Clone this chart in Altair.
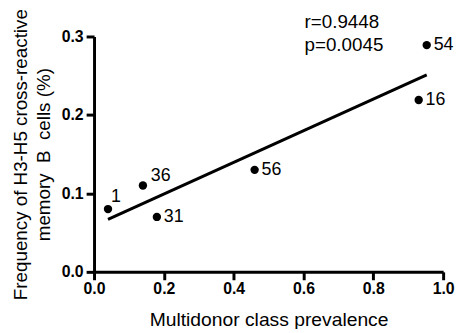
import altair as alt
import pandas as pd

# data
prevalence = [0.04, 0.14, 0.18, 0.46, 0.93, 0.953]
frequency = [0.080, 0.110, 0.070, 0.130, 0.219, 0.289]
donors = ["1", "36", "31", "56", "16", "54"]

annot_text = ["r=0.9448", "p=0.0045"]
annot_x = [0.603, 0.603]
annot_y = [0.319, 0.2885]

x_ticks = [0.0, 0.2, 0.4, 0.6, 0.8, 1.0]
y_ticks = [0.0, 0.1, 0.2, 0.3]

df = pd.DataFrame({"x": prevalence, "y": frequency, "label": donors})
ann = pd.DataFrame({"x": annot_x, "y": annot_y, "t": annot_text})

FONT = "Liberation Sans"

xs = alt.Scale(domain=[0, 1.0], nice=False)
ys = alt.Scale(domain=[0, 0.3], nice=False)

xax = alt.Axis(values=x_ticks, format=".1f", title="Multidonor class prevalence",
               titlePadding=14, titleFontSize=19.5, labelPadding=1)
yax = alt.Axis(values=y_ticks, format=".1f",
               title=["Frequency of H3-H5 cross-reactive", "memory\u00a0 B\u00a0 cells (%)"],
               titlePadding=8, titleFontSize=19, titleLineHeight=23)

base = alt.Chart(df)

points = base.mark_circle(size=72, color="black", opacity=1).encode(
    x=alt.X("x:Q", scale=xs, axis=xax),
    y=alt.Y("y:Q", scale=ys, axis=yax),
)

fit = base.transform_regression("x", "y").mark_line(color="black", strokeWidth=3).encode(
    x=alt.X("x:Q", scale=xs),
    y=alt.Y("y:Q", scale=ys),
)

labels_side = base.transform_filter(
    "datum.label != '1' && datum.label != '36'"
).mark_text(align="left", baseline="middle", dx=7, font=FONT, fontSize=18, color="black").encode(
    x=alt.X("x:Q", scale=xs), y=alt.Y("y:Q", scale=ys), text="label:N"
)

label_one = base.transform_filter("datum.label == '1'").mark_text(
    align="left", baseline="middle", dx=3, dy=-12, font=FONT, fontSize=18, color="black"
).encode(x=alt.X("x:Q", scale=xs), y=alt.Y("y:Q", scale=ys), text="label:N")

label_36 = base.transform_filter("datum.label == '36'").mark_text(
    align="left", baseline="middle", dx=8, dy=-10, font=FONT, fontSize=18, color="black"
).encode(x=alt.X("x:Q", scale=xs), y=alt.Y("y:Q", scale=ys), text="label:N")

annot = alt.Chart(ann).mark_text(
    align="left", baseline="middle", font=FONT, fontSize=19, color="black", clip=False
).encode(x=alt.X("x:Q", scale=xs), y=alt.Y("y:Q", scale=ys), text="t:N")

chart = alt.layer(points, fit, labels_side, label_one, label_36, annot).properties(
    width=353, height=238,
    autosize=alt.AutoSizeParams(type="none"),
    padding={"left": 87, "top": 27, "right": 12, "bottom": 56},
).configure_view(stroke=None).configure_axis(
    grid=False,
    labelFlush=False,
    domainColor="black", domainWidth=3,
    tickColor="black", tickWidth=3, tickSize=8,
    labelFont=FONT, labelFontSize=16, labelFontWeight="bold", labelColor="black",
    labelPadding=3,
    titleFont=FONT, titleFontWeight="normal", titleColor="black",
)

chart.save("out.html", embed_options={"renderer": "svg", "actions": False})
